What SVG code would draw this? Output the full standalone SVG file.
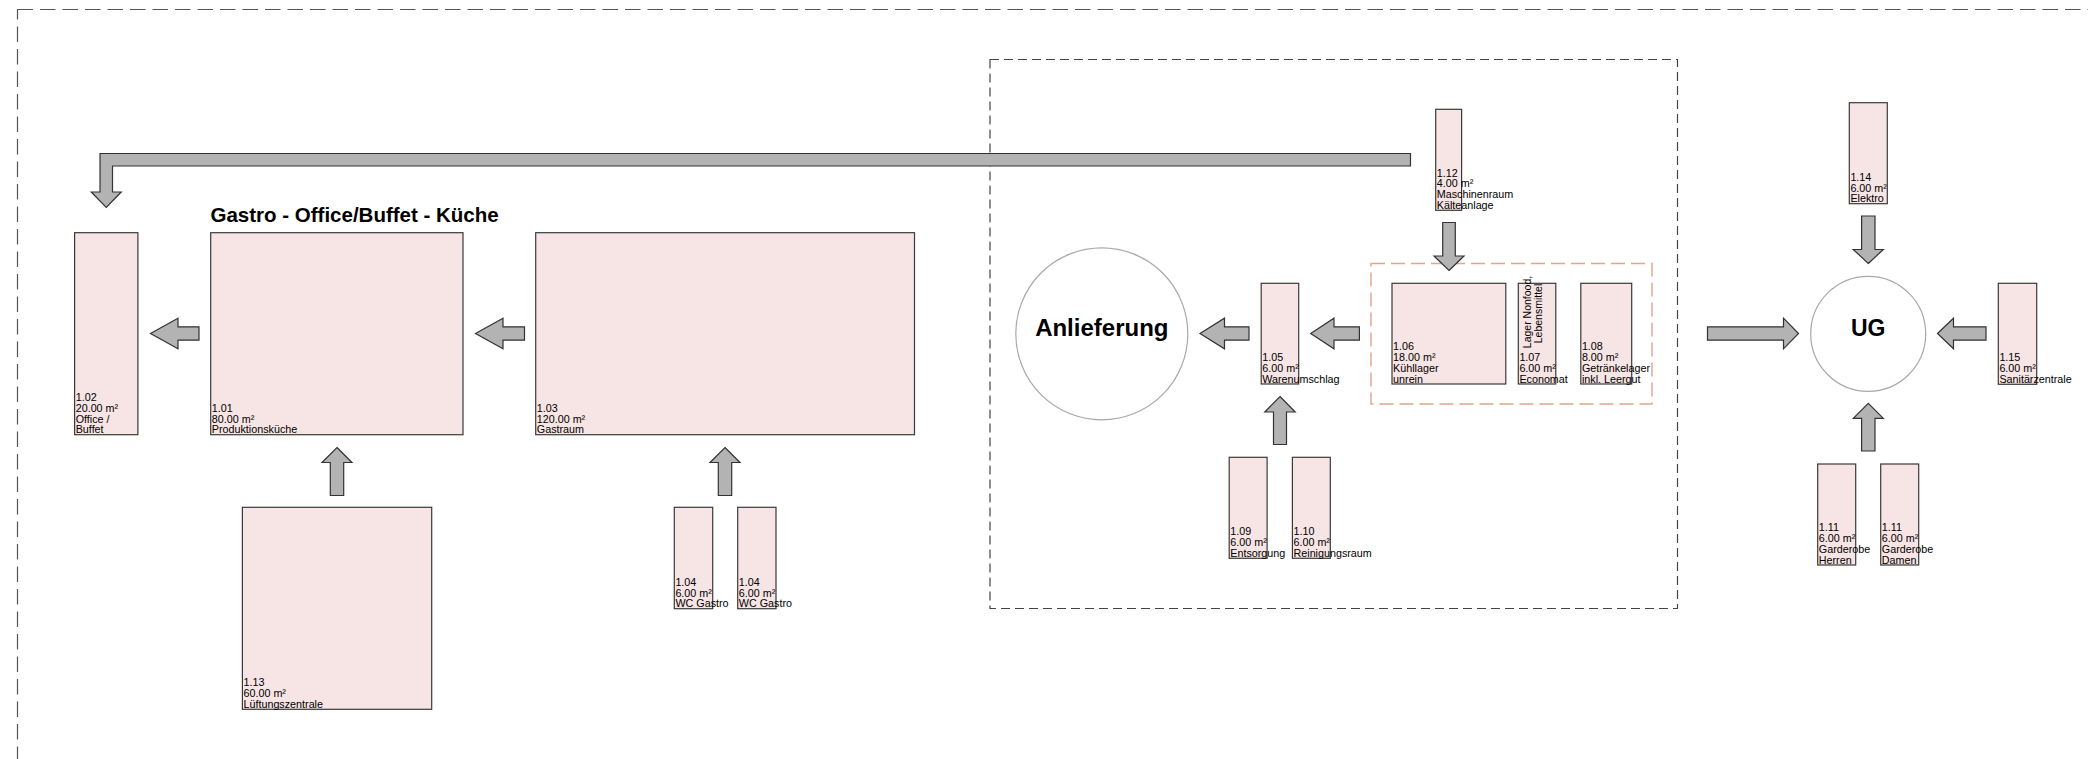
<svg xmlns="http://www.w3.org/2000/svg" width="2088" height="759" viewBox="0 0 2088 759">
<style>
.room{fill:#F7E4E4;stroke:#3a3a3a;stroke-width:1.2}
.lbl{font-family:"Liberation Sans",Arial,sans-serif;font-size:10.75px;fill:#000}
.rot{font-family:"Liberation Sans",Arial,sans-serif;font-size:10.5px;fill:#000}
.arr{fill:#B3B3B3;stroke:#333;stroke-width:1.2;stroke-linejoin:miter}
.big{font-family:"Liberation Sans",Arial,sans-serif;font-weight:bold;fill:#000}
.hub{fill:#fff;stroke:#A8A8A8;stroke-width:1.2}
</style>
<rect width="2088" height="759" fill="#fff"/>
<g id="frames" fill="none">
<rect id="outer" x="17.5" y="9.5" width="2300" height="900" stroke="#555" stroke-width="1.2" stroke-dasharray="15.5 7"/>
<rect id="inner" x="990" y="59.5" width="687.5" height="549" stroke="#444" stroke-width="1.2" stroke-dasharray="9 5"/>
<rect id="lager" x="1371" y="263.5" width="281" height="140.5" stroke="#E2A48C" stroke-width="1.4" stroke-dasharray="14 6"/>
</g>
<text class="big" x="210.5" y="222" font-size="20.5">Gastro - Office/Buffet - Küche</text>

<g id="connectors">
<path class="arr" d="M1410.5,153.5 H100 V192 H91.25 L106.25,207.5 L121.25,192 H112.5 V166 H1410.5 Z"/>
<path class="arr" d="M150.5,333.5 L178,318.2 V326.8 H199 V340.2 H178 V348.8 Z"/>
<path class="arr" d="M475.5,333.5 L503,318.2 V326.8 H524.5 V340.2 H503 V348.8 Z"/>
<path class="arr" d="M1200,333.5 L1224.5,318.2 V326.8 H1249 V340.2 H1224.5 V348.8 Z"/>
<path class="arr" d="M1310.7,333.5 L1334,318.2 V326.8 H1359.4 V340.2 H1334 V348.8 Z"/>
<path class="arr" d="M1937.5,333.5 L1953.5,318.2 V326.8 H1986 V340.2 H1953.5 V348.8 Z"/>
<path class="arr" d="M1798.5,333.5 L1783.5,318.2 V326.8 H1707.5 V340.2 H1783.5 V348.8 Z"/>
<path class="arr" d="M337,447.5 L352,462.5 H343.7 V495.5 H330.3 V462.5 H322 Z"/>
<path class="arr" d="M725,447.5 L740,462.5 H731.7 V495.5 H718.3 V462.5 H710 Z"/>
<path class="arr" d="M1280,396.5 L1295.2,412 H1286.5 V444.5 H1273.5 V412 H1264.8 Z"/>
<path class="arr" d="M1868.3,403.3 L1883.3,418.3 H1875 V451 H1861.6 V418.3 H1853.3 Z"/>
<path class="arr" d="M1449,270.5 L1464,256 H1455.3 V222.5 H1442.7 V256 H1434 Z"/>
<path class="arr" d="M1868.3,263.5 L1883.3,249.5 H1875 V216 H1861.6 V249.5 H1853.3 Z"/>
</g>

<g id="anlieferung">
<circle class="hub" cx="1101.8" cy="333.8" r="86"/>
<text class="big" x="1101.8" y="336" font-size="24" text-anchor="middle">Anlieferung</text>
</g>
<g id="ug">
<circle class="hub" cx="1868.2" cy="333.8" r="57.5"/>
<text class="big" x="1868.2" y="336" font-size="23" text-anchor="middle">UG</text>
</g>

<g id="r101">
<rect class="room" x="210.7" y="232.7" width="252.3" height="202"/>
<text class="lbl"><tspan x="211.8" y="411.8">1.01</tspan><tspan x="211.8" y="422.6">80.00 m²</tspan><tspan x="211.8" y="433.4">Produktionsküche</tspan></text>
</g>
<g id="r102">
<rect class="room" x="74.6" y="232.7" width="63.3" height="202"/>
<text class="lbl"><tspan x="75.7" y="401">1.02</tspan><tspan x="75.7" y="411.8">20.00 m²</tspan><tspan x="75.7" y="422.6">Office /</tspan><tspan x="75.7" y="433.4">Buffet</tspan></text>
</g>
<g id="r103">
<rect class="room" x="535.7" y="232.7" width="378.8" height="202"/>
<text class="lbl"><tspan x="536.8" y="411.8">1.03</tspan><tspan x="536.8" y="422.6">120.00 m²</tspan><tspan x="536.8" y="433.4">Gastraum</tspan></text>
</g>
<g id="r113">
<rect class="room" x="242.4" y="507.3" width="189.3" height="202"/>
<text class="lbl"><tspan x="243.5" y="686.4">1.13</tspan><tspan x="243.5" y="697.2">60.00 m²</tspan><tspan x="243.5" y="708">Lüftungszentrale</tspan></text>
</g>
<g id="r104a">
<rect class="room" x="674.3" y="507.3" width="38.4" height="101.4"/>
<text class="lbl"><tspan x="675.4" y="585.8">1.04</tspan><tspan x="675.4" y="596.6">6.00 m²</tspan><tspan x="675.4" y="607.4">WC Gastro</tspan></text>
</g>
<g id="r104b">
<rect class="room" x="737.7" y="507.3" width="38.3" height="101.4"/>
<text class="lbl"><tspan x="738.8" y="585.8">1.04</tspan><tspan x="738.8" y="596.6">6.00 m²</tspan><tspan x="738.8" y="607.4">WC Gastro</tspan></text>
</g>
<g id="r105">
<rect class="room" x="1261.2" y="283.3" width="37.5" height="100.7"/>
<text class="lbl"><tspan x="1262.3" y="361.1">1.05</tspan><tspan x="1262.3" y="371.9">6.00 m²</tspan><tspan x="1262.3" y="382.7">Warenumschlag</tspan></text>
</g>
<g id="r106">
<rect class="room" x="1392" y="283.3" width="113.8" height="100.7"/>
<text class="lbl"><tspan x="1393.1" y="350.3">1.06</tspan><tspan x="1393.1" y="361.1">18.00 m²</tspan><tspan x="1393.1" y="371.9">Kühllager</tspan><tspan x="1393.1" y="382.7">unrein</tspan></text>
</g>
<g id="r107">
<rect class="room" x="1518.3" y="283.3" width="37.5" height="100.7"/>
<text class="rot" text-anchor="middle" transform="translate(1530.5,312) rotate(-90)">Lager Nonfood,</text>
<text class="rot" text-anchor="middle" transform="translate(1541.5,313.5) rotate(-90)">Lebensmittel</text>
<text class="lbl"><tspan x="1519.4" y="361.1">1.07</tspan><tspan x="1519.4" y="371.9">6.00 m²</tspan><tspan x="1519.4" y="382.7">Economat</tspan></text>
</g>
<g id="r108">
<rect class="room" x="1580.8" y="283.3" width="50.9" height="100.7"/>
<text class="lbl"><tspan x="1581.9" y="350.3">1.08</tspan><tspan x="1581.9" y="361.1">8.00 m²</tspan><tspan x="1581.9" y="371.9">Getränkelager</tspan><tspan x="1581.9" y="382.7">inkl. Leergut</tspan></text>
</g>
<g id="r109">
<rect class="room" x="1229.2" y="457.3" width="37.9" height="101"/>
<text class="lbl"><tspan x="1230.3" y="535.4">1.09</tspan><tspan x="1230.3" y="546.2">6.00 m²</tspan><tspan x="1230.3" y="557">Entsorgung</tspan></text>
</g>
<g id="r110">
<rect class="room" x="1292.4" y="457.3" width="37.9" height="101"/>
<text class="lbl"><tspan x="1293.5" y="535.4">1.10</tspan><tspan x="1293.5" y="546.2">6.00 m²</tspan><tspan x="1293.5" y="557">Reinigungsraum</tspan></text>
</g>
<g id="r112">
<rect class="room" x="1435.7" y="109.3" width="25.9" height="101"/>
<text class="lbl"><tspan x="1436.8" y="176.6">1.12</tspan><tspan x="1436.8" y="187.4">4.00 m²</tspan><tspan x="1436.8" y="198.2">Maschinenraum</tspan><tspan x="1436.8" y="209">Kälteanlage</tspan></text>
</g>
<g id="r114">
<rect class="room" x="1849.3" y="102.7" width="38" height="101"/>
<text class="lbl"><tspan x="1850.4" y="180.8">1.14</tspan><tspan x="1850.4" y="191.6">6.00 m²</tspan><tspan x="1850.4" y="202.4">Elektro</tspan></text>
</g>
<g id="r115">
<rect class="room" x="1998.3" y="283.3" width="38.4" height="101"/>
<text class="lbl"><tspan x="1999.4" y="361.4">1.15</tspan><tspan x="1999.4" y="372.2">6.00 m²</tspan><tspan x="1999.4" y="383">Sanitärzentrale</tspan></text>
</g>
<g id="r111h">
<rect class="room" x="1817.7" y="464" width="38" height="101"/>
<text class="lbl"><tspan x="1818.8" y="531.3">1.11</tspan><tspan x="1818.8" y="542.1">6.00 m²</tspan><tspan x="1818.8" y="552.9">Garderobe</tspan><tspan x="1818.8" y="563.7">Herren</tspan></text>
</g>
<g id="r111d">
<rect class="room" x="1880.7" y="464" width="38" height="101"/>
<text class="lbl"><tspan x="1881.8" y="531.3">1.11</tspan><tspan x="1881.8" y="542.1">6.00 m²</tspan><tspan x="1881.8" y="552.9">Garderobe</tspan><tspan x="1881.8" y="563.7">Damen</tspan></text>
</g>
</svg>
